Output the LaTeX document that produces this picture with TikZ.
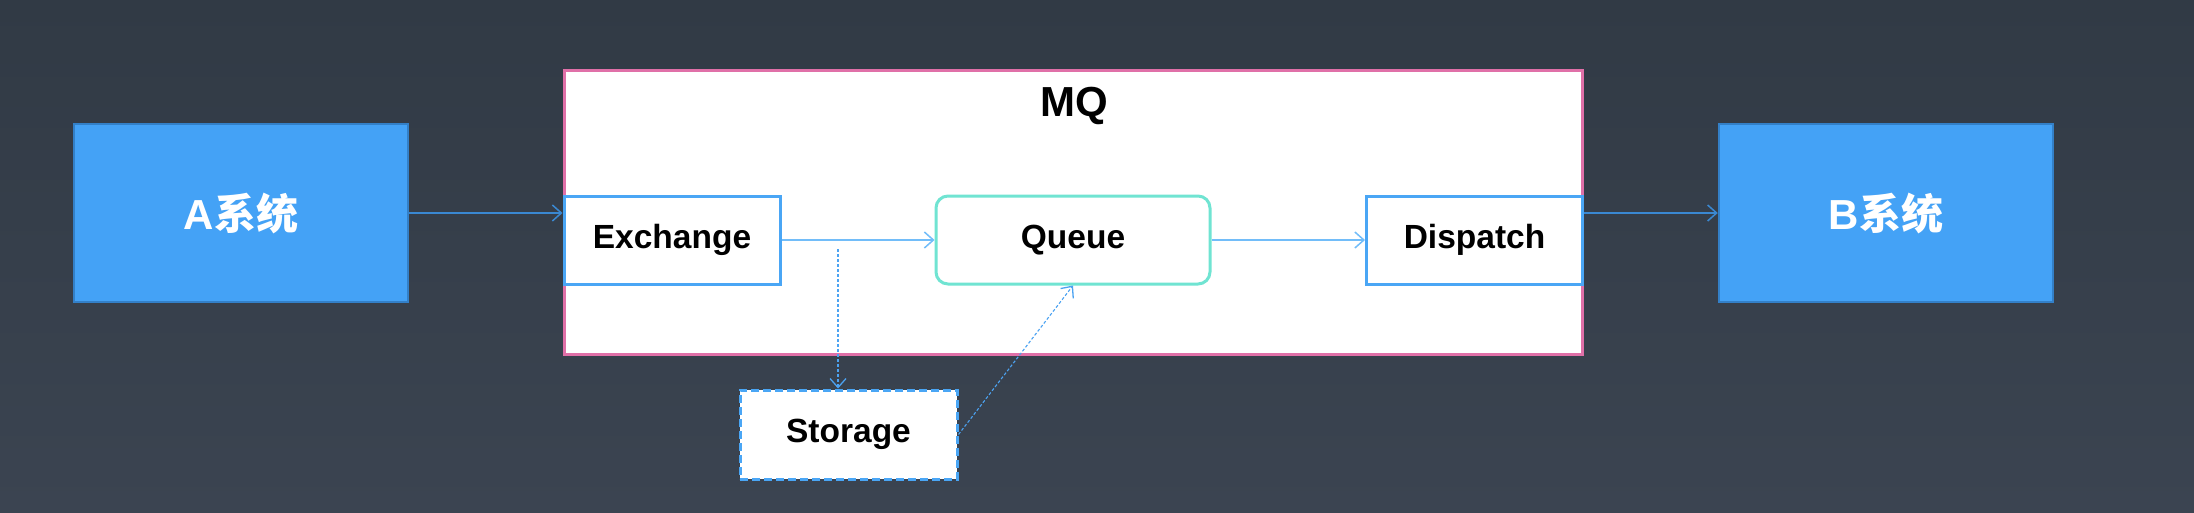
\documentclass[tikz,border=0pt]{standalone}
\usepackage{fontspec}
\setmainfont{Liberation Sans}
\newfontfamily\cjk{Noto Sans CJK SC}
\usetikzlibrary{arrows.meta}
\definecolor{bgtop}{HTML}{313A45}
\definecolor{bgbot}{HTML}{3B4451}
\definecolor{sysfill}{HTML}{44A2F6}
\definecolor{sysdraw}{HTML}{3380C8}
\definecolor{mqpink}{HTML}{E070A8}
\definecolor{exblue}{HTML}{4AA6F5}
\definecolor{qteal}{HTML}{70E4D2}
\definecolor{lineblue}{HTML}{72BDF9}
\definecolor{darkline}{HTML}{3A88D2}
\definecolor{dashblue}{HTML}{4CA3F2}
\tikzset{
  sysbox/.style={draw=sysdraw, fill=sysfill, line width=2.5pt, minimum width=334pt, minimum height=178pt, inner sep=0pt, text=white, font=\fontsize{42}{48}\selectfont\bfseries},
  inbox/.style={draw=exblue, fill=white, line width=3pt, minimum width=216pt, minimum height=88pt, inner sep=0pt, font=\fontsize{33.5}{40}\selectfont\bfseries},
  qbox/.style={draw=qteal, fill=white, line width=3pt, rounded corners=12pt, minimum width=274pt, minimum height=88pt, inner sep=0pt, font=\fontsize{33.5}{40}\selectfont\bfseries},
  stbox/.style={draw=exblue, fill=white, line width=3pt, dash pattern=on 8pt off 4pt, minimum width=217pt, minimum height=89pt, inner sep=0pt, font=\fontsize{33.5}{40}\selectfont\bfseries},
  mqbox/.style={draw=mqpink, fill=white, line width=3pt, minimum width=1018pt, minimum height=284pt, inner sep=0pt},
  tip/.style={-{Straight Barb[length=9pt,width=16pt,line width=1.5pt]}},
  flow/.style={tip, draw=lineblue, line width=1.8pt},
  outer/.style={tip, draw=darkline, line width=1.8pt},
  dflow/.style={-{Straight Barb[length=9pt,width=16pt,line width=1.3pt]}, draw=dashblue, line width=1.1pt, dash pattern=on 3pt off 2pt}
}
\begin{document}
\begin{tikzpicture}[x=1pt,y=-1pt]
\shade[top color=bgtop, bottom color=bgbot] (0,0) rectangle (2194,512);
\useasboundingbox (0,0) rectangle (2194,512);
\node[mqbox] (mq) at (1073,212.5) {};
\node[font=\fontsize{42}{48}\selectfont\bfseries] (mqt) at (1074,106) {MQ};
\node[sysbox] (A) at (241,213) {A{\cjk 系统}};
\node[sysbox] (B) at (1886,213) {B{\cjk 系统}};
\node[inbox] (ex) at (672,240) {Exchange};
\node[qbox] (q) at (1073,240) {Queue};
\node[inbox] (dp) at (1474.5,240) {Dispatch};
\node[stbox] (st) at (848.5,434.5) {Storage};
\coordinate (ds) at (838,249);
\draw[outer] (A.east) -- (A.east -| ex.west);
\draw[outer] (dp.east |- B.west) -- (B.west);
\draw[flow] (ex.east) -- (q.west);
\draw[flow] (q.east) -- (dp.west);
\draw[dflow] (ds) -- (ds |- st.north);
\draw[dflow] (st.east) -- (q.south);
\end{tikzpicture}
\end{document}
